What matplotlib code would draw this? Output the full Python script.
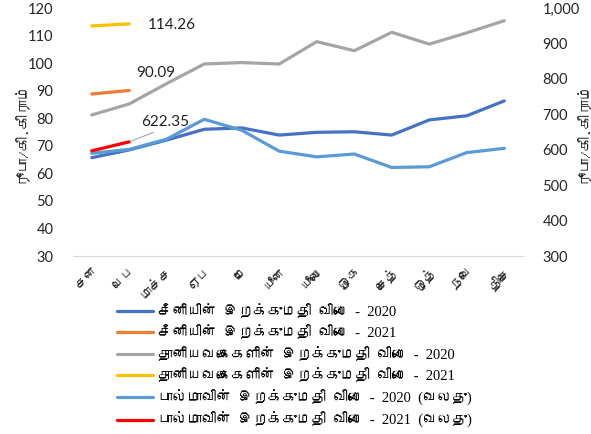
import matplotlib
matplotlib.use("Agg")
import matplotlib.pyplot as plt
from matplotlib import font_manager
from matplotlib.ft2font import FT2Font
from matplotlib.ticker import FuncFormatter

# Data (Jan - Dec)
months = ["சன", "பெப", "மாச்ச", "ஏப", "மே", "யூன", "யூலை", "ஓக", "செத்", "ஒத்", "நவெ", "திசெ"]

sugar_2020 = [65.7, 68.5, 72.1, 76.0, 76.5, 73.9, 74.9, 75.1, 73.9, 79.4, 80.9, 86.3]
sugar_2021 = [88.8, 90.09]
cereal_2020 = [81.2, 85.2, 92.6, 99.7, 100.2, 99.7, 107.8, 104.5, 111.2, 106.9, 111.0, 115.4]
cereal_2021 = [113.5, 114.26]
milk_2020 = [590, 601, 630, 686, 655, 596, 580, 588, 550, 552, 592, 604]
milk_2021 = [597, 622.35]

labels = [
    "சீனியின்  இறக்குமதி  விலை  -  2020",
    "சீனியின்  இறக்குமதி  விலை  -  2021",
    "தானியவகைகளின்  இறக்குமதி  விலை  -  2020",
    "தானியவகைகளின்  இறக்குமதி  விலை  -  2021",
    "பால்மாவின்  இறக்குமதி  விலை  -  2020  (வலது)",
    "பால்மாவின்  இறக்குமதி  விலை  -  2021  (வலது)",
]
colors = ["#4472C4", "#ED7D31", "#A5A5A5", "#FFC000", "#5B9BD5", "#FF0000"]
y_label = "ரூபா/கி.கிராம்"


def find_tamil_font():
    """Look for any installed font that has Tamil glyphs."""
    for f in font_manager.fontManager.ttflist:
        try:
            if FT2Font(f.fname).get_char_index(ord("த")):
                return f.name
        except Exception:
            pass
    return None


tamil = find_tamil_font()
tamil_fam = [tamil, "DejaVu Sans"] if tamil else ["DejaVu Sans"]
legend_fam = ["Liberation Serif"] + tamil_fam
num_fam = ["Lato", "DejaVu Sans"]

fig = plt.figure(figsize=(5.91, 4.34), dpi=100)
ax = fig.add_axes([0.1235, 0.410, 0.7615, 0.5715])
ax2 = ax.twinx()

x = list(range(len(months)))
lw = 2.3

# Left axis series
h1, = ax.plot(x, sugar_2020, color=colors[0], lw=lw, solid_capstyle="round")
h2, = ax.plot(x[:len(sugar_2021)], sugar_2021, color=colors[1], lw=lw, solid_capstyle="round")
h3, = ax.plot(x, cereal_2020, color=colors[2], lw=lw, solid_capstyle="round")
h4, = ax.plot(x[:len(cereal_2021)], cereal_2021, color=colors[3], lw=lw, solid_capstyle="round")

# Right axis series
h5, = ax2.plot(x, milk_2020, color=colors[4], lw=lw, solid_capstyle="round")
h6, = ax2.plot(x[:len(milk_2021)], milk_2021, color=colors[5], lw=lw, solid_capstyle="round")

ax.set_xlim(-0.5, len(months) - 0.5)
ax.set_ylim(30, 120)
ax.set_yticks(range(30, 121, 10))
ax2.set_ylim(300, 1000)
ax2.set_yticks(range(300, 1001, 100))
ax2.yaxis.set_major_formatter(FuncFormatter(lambda v, p: f"{int(v):,}"))

for a in (ax, ax2):
    for s in ("top", "left", "right", "bottom"):
        a.spines[s].set_visible(False)
    a.tick_params(length=0, labelsize=10.5, labelcolor="#262626")
ax.spines["bottom"].set_visible(True)
ax.spines["bottom"].set_color("#d9d9d9")
ax.tick_params(axis="y", pad=14)
ax2.tick_params(axis="y", pad=14)
for t in ax.get_yticklabels() + ax2.get_yticklabels():
    t.set_family(num_fam)

ax.set_xticks(x)
ax.set_xticklabels(months, rotation=45, ha="right", rotation_mode="anchor",
                   family=tamil_fam, fontsize=9.5)
ax.tick_params(axis="x", pad=6)

ax.set_ylabel(y_label, family=tamil_fam, fontsize=10.5, color="#262626")
ax2.set_ylabel(y_label, family=tamil_fam, fontsize=10.5, color="#262626", rotation=90)
ax.yaxis.set_label_coords(-0.102, 0.5)
ax2.yaxis.set_label_coords(1.114, 0.5)

# Data labels on the latest 2021 points
ax.annotate(f"{cereal_2021[-1]:.2f}", xy=(1, cereal_2021[-1]), xytext=(13, -1),
            textcoords="offset points", ha="left", va="center", fontsize=11,
            family=num_fam, color="#222222")
ax.annotate(f"{sugar_2021[-1]:.2f}", xy=(1, sugar_2021[-1]), xytext=(19, 12.5),
            textcoords="offset points", ha="center", va="center", fontsize=11,
            family=num_fam, color="#222222")
ax2.annotate(f"{milk_2021[-1]:.2f}", xy=(1, milk_2021[-1]), xytext=(26, 14.5),
             textcoords="offset points", ha="center", va="center", fontsize=11,
             family=num_fam, color="#222222",
             arrowprops=dict(arrowstyle="-", color="#a6a6a6", lw=0.8,
                             relpos=(0.45, 0), shrinkA=2, shrinkB=2))

fig.legend([h1, h2, h3, h4, h5, h6], labels, loc="upper left",
           bbox_to_anchor=(117 / 591, 1 - 304 / 434), frameon=False,
           borderpad=0, borderaxespad=0, handlelength=2.5, handletextpad=0.3,
           labelspacing=0.45, prop={"family": legend_fam, "size": 10.5})

fig.savefig("out.png", dpi=100)
